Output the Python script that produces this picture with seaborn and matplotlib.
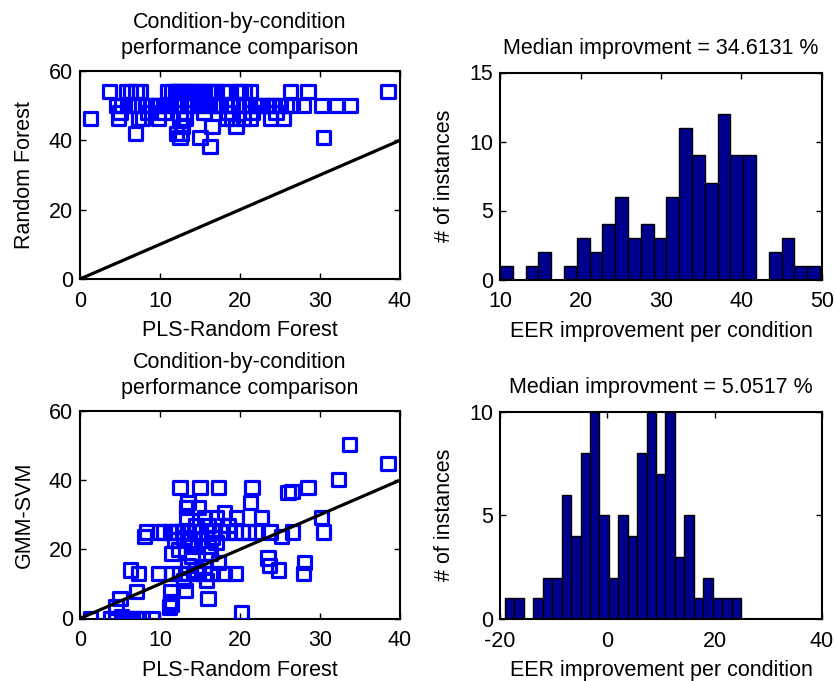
import numpy as np
import pandas as pd
import matplotlib
matplotlib.use("Agg")
import matplotlib.pyplot as plt
import seaborn as sns

# ---------------- data ----------------
# Top scatter: PLS-Random Forest (x) vs Random Forest (y)
rf_x = [3.7, 5.8, 6.3, 7.0, 7.5, 11.0, 11.5, 12.0, 12.5, 13.0, 13.5, 14.0, 14.5, 15.0, 16.0,
        16.5, 17.0, 17.9, 19.6, 20.0, 21.3, 26.3, 28.5, 38.5, 12.2, 13.8, 15.5, 18.5, 20.5,
        4.6, 5.2, 6.5, 7.2, 8.3, 9.0, 9.8, 10.5, 11.0, 11.8, 12.3, 13.0, 13.6, 14.2, 14.8,
        15.5, 16.2, 17.0, 17.6, 18.3, 19.0, 19.8, 20.5, 21.2, 22.0, 22.8, 23.5, 24.3, 25.0,
        25.8, 26.5, 27.9, 30.2, 32.1, 33.8, 6.0, 9.5, 16.8, 22.4, 24.0,
        5.0, 8.5, 10.5, 13.0, 15.5, 18.5, 21.5, 24.5,
        1.3, 4.8, 7.3, 7.8, 9.8, 12.5, 13.2, 18.3, 19.0, 20.4, 21.3, 23.8, 25.4,
        12.8, 16.5, 19.5,
        6.9, 12.1, 12.7,
        12.5, 15.0, 30.4,
        16.25]
rf_y = [54] * 29 + [50] * 40 + [48] * 8 + [46.4] * 13 + [44] * 3 + [42] * 3 + [40.8] * 3 + [38.2]

# Bottom scatter: PLS-Random Forest (x) vs GMM-SVM (y)
svm_x = [33.7, 38.5, 32.3,
         12.5, 15.0, 17.3, 21.5, 28.5,
         26.0, 26.5,
         13.5, 21.3, 13.3,
         18.1,
         13.3, 15.6, 17.1, 19.6, 22.7, 30.2,
         14.5, 16.0, 18.5,
         8.3, 10.0, 11.3, 12.2, 12.8, 13.5, 14.3, 15.0, 15.8, 16.6, 17.5, 18.5, 19.4, 20.3,
         21.1, 21.9, 23.8, 26.6, 30.4,
         8.1, 25.2, 13.0, 16.5,
         11.8, 13.7, 15.2, 17.0,
         14.0, 16.0, 12.3,
         11.5, 16.3, 14.0,
         23.5,
         17.3, 28.1,
         13.5, 23.7, 15.5,
         6.3, 24.8, 14.5,
         7.3, 9.8, 11.5, 12.5, 13.5, 14.5, 15.5, 16.5, 19.4, 27.9,
         12.9, 15.8,
         7.1, 11.3, 13.2,
         5.0, 11.3, 16.0, 11.4,
         4.5, 11.2,
         20.2,
         1.3, 3.8, 4.5, 5.8, 6.5, 7.1, 7.8, 9.0, 5.2,
         10.5, 18.0, 12.0, 14.8]
svm_y = [50.4, 44.9, 40.2,
         37.8, 37.8, 37.8, 37.8, 37.8,
         36.4, 36.8,
         33.5, 33.5, 32.0,
         30.6,
         29.2, 29.2, 29.2, 29.2, 29.2, 29.2,
         27.0, 27.0, 27.0,
         25, 25, 25, 25, 25, 25, 25, 25, 25, 25, 25, 25, 25, 25,
         25, 25, 25, 25, 25,
         23.7, 23.7, 23.5, 23.5,
         22.7, 22.5, 22.7, 22.0,
         20.8, 20.8, 20.0,
         18.9, 18.9, 18.0,
         17.5,
         16.1, 16.1,
         15.4, 15.4, 15.0,
         14.0, 14.0, 14.0,
         13, 13, 13, 13, 13, 13, 13, 13, 13, 13,
         11.0, 11.0,
         7.7, 7.7, 8.0,
         5.8, 5.0, 5.8, 4.0,
         3.3, 3.3,
         1.8,
         0, 0, 0, 0, 0, 0, 0, 0, 0.5,
         25, 13, 25, 32.0]

diag_x = [0, 40]
diag_y = [0, 40]

# Histograms (25 bins each)
hist1_range = (10.0, 49.75)
hist1_counts = [1, 0, 1, 2, 0, 1, 3, 2, 4, 6, 3, 4, 3, 6, 11, 9, 7, 12, 9, 9, 0, 2, 3, 1, 1]
hist2_range = (-19.06, 24.9)
hist2_counts = [1, 1, 0, 1, 2, 2, 6, 4, 8, 10, 5, 2, 5, 4, 8, 10, 7, 10, 3, 5, 1, 2, 1, 1, 1]

title_scatter = "Condition-by-condition\nperformance comparison"
title_hist1 = "Median improvment = 34.6131 %"
title_hist2 = "Median improvment = 5.0517 %"

# ---------------- style ----------------
sns.set_style("ticks", {"xtick.direction": "in", "ytick.direction": "in"})
plt.rcParams["font.family"] = ["Liberation Sans", "DejaVu Sans"]
plt.rcParams["axes.unicode_minus"] = False
plt.rcParams["text.color"] = "black"
plt.rcParams["axes.labelcolor"] = "black"
plt.rcParams["xtick.color"] = "black"
plt.rcParams["ytick.color"] = "black"
FS = 15.5

fig = plt.figure(figsize=(8.37, 6.81), dpi=100)
ax1 = fig.add_axes([80 / 837, 1 - 279 / 681, 320 / 837, 208 / 681])
ax2 = fig.add_axes([500 / 837, 1 - 279.5 / 681, 322 / 837, 207 / 681])
ax3 = fig.add_axes([80 / 837, 1 - 618.5 / 681, 320 / 837, 207.5 / 681])
ax4 = fig.add_axes([500 / 837, 1 - 619 / 681, 322 / 837, 207.5 / 681])

navy = (0, 0, 0.5625)
blue = (0, 0, 1)


def style_axes(ax):
    for sp in ax.spines.values():
        sp.set_visible(True)
        sp.set_linewidth(1.5)
        sp.set_color("black")
    ax.tick_params(direction="in", top=True, right=True, length=4, width=1.0,
                   labelsize=FS, colors="black", labelcolor="black")
    ax.tick_params(axis="x", pad=8.5)
    ax.tick_params(axis="y", pad=5)


def scatter_panel(ax, xs, ys, ylabel):
    df = pd.DataFrame({"x": xs, "y": ys})
    sns.scatterplot(data=df, x="x", y="y", ax=ax, marker="s", s=90,
                    facecolor="none", edgecolor=blue, linewidth=2.3, zorder=3)
    sns.lineplot(x=diag_x, y=diag_y, ax=ax, color="black", linewidth=2.3, zorder=4)
    ax.set_xlim(0, 40)
    ax.set_ylim(0, 60)
    ax.set_xticks([0, 10, 20, 30, 40])
    ax.set_yticks([0, 20, 40, 60])
    ax.set_xlabel("PLS-Random Forest", fontsize=FS, labelpad=6, color="black")
    ax.set_ylabel(ylabel, fontsize=FS, labelpad=10, color="black")
    ax.set_title(title_scatter, fontsize=FS, linespacing=1.3, pad=12.5, color="black")
    style_axes(ax)


def hist_panel(ax, rng, counts, title, xlim, xticks, ylim, yticks):
    n = len(counts)
    edges = np.linspace(rng[0], rng[1], n + 1)
    centers = (edges[:-1] + edges[1:]) / 2
    df = pd.DataFrame({"c": centers, "w": np.asarray(counts, dtype=float)})
    sns.histplot(data=df, x="c", weights="w", bins=list(edges), ax=ax, color=navy,
                 edgecolor="black", linewidth=1.0, alpha=1.0)
    ax.set_xlim(*xlim)
    ax.set_ylim(*ylim)
    ax.set_xticks(xticks)
    ax.set_yticks(yticks)
    ax.set_xlabel("EER improvement per condition", fontsize=FS, labelpad=6, color="black")
    ax.set_ylabel("# of instances", fontsize=FS, labelpad=10, color="black")
    ax.set_title(title, fontsize=FS, pad=13.5, color="black")
    style_axes(ax)


scatter_panel(ax1, rf_x, rf_y, "Random Forest")
scatter_panel(ax3, svm_x, svm_y, "GMM-SVM")
hist_panel(ax2, hist1_range, hist1_counts, title_hist1, (10, 50), [10, 20, 30, 40, 50],
           (0, 15), [0, 5, 10, 15])
hist_panel(ax4, hist2_range, hist2_counts, title_hist2, (-20, 40), [-20, 0, 20, 40],
           (0, 10), [0, 5, 10])

fig.savefig("out.png", dpi=100)
